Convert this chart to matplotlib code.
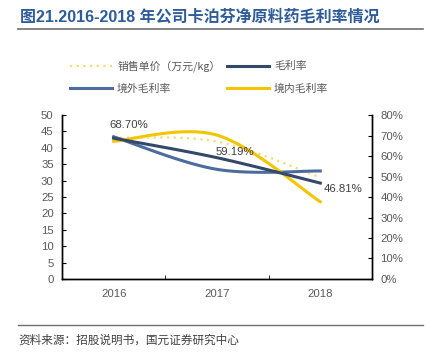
import numpy as np
import matplotlib.pyplot as plt
from matplotlib.lines import Line2D

plt.rcParams['font.family'] = ['Noto Sans CJK SC', 'DejaVu Sans']

years = ['2016', '2017', '2018']
price = [43.1, 41.9, 31.0]          # 销售单价（万元/kg），左轴
margin = [68.70, 59.19, 46.81]      # 毛利率 %
margin_abroad = [69.4, 53.5, 52.7]  # 境外毛利率 %
margin_home = [67.2, 70.2, 37.7]    # 境内毛利率 %
margin_labels = ['68.70%', '59.19%', '46.81%']


def smooth(xs, ys, n=40):
    # Excel 风格平滑线（Bezier）
    xs = np.asarray(xs, float)
    ys = np.asarray(ys, float)
    px = np.concatenate([[xs[0]], xs, [xs[-1]]])
    py = np.concatenate([[ys[0]], ys, [ys[-1]]])
    ox, oy = [], []
    t = np.linspace(0, 1, n)
    for i in range(1, len(xs)):
        p0x, p0y = px[i], py[i]
        p3x, p3y = px[i + 1], py[i + 1]
        c1x = p0x + (px[i + 1] - px[i - 1]) / 6
        c1y = p0y + (py[i + 1] - py[i - 1]) / 6
        c2x = p3x - (px[i + 2] - px[i]) / 6
        c2y = p3y - (py[i + 2] - py[i]) / 6
        bx = (1 - t) ** 3 * p0x + 3 * (1 - t) ** 2 * t * c1x + 3 * (1 - t) * t ** 2 * c2x + t ** 3 * p3x
        by = (1 - t) ** 3 * p0y + 3 * (1 - t) ** 2 * t * c1y + 3 * (1 - t) * t ** 2 * c2y + t ** 3 * p3y
        ox.extend(bx)
        oy.extend(by)
    return np.array(ox), np.array(oy)


navy = '#34496A'
blue = '#4C6CA0'
yellow = '#F2C500'
light_yellow = '#F7DB72'
gray = '#595959'
num_font = ['Liberation Sans', 'DejaVu Sans']

fig = plt.figure(figsize=(4.29, 3.54), dpi=100)
ax = fig.add_axes([0.1445, 0.2119, 0.7225, 0.4631])
ax2 = ax.twinx()

x = np.arange(len(years))

sx, sy = smooth(x, price)
ax.plot(sx, sy, color=light_yellow, lw=1.6, ls=(0, (1, 2)))

sx, sy = smooth(x, margin_abroad)
ax2.plot(sx, sy, color=blue, lw=2.2)
sx, sy = smooth(x, margin_home)
ax2.plot(sx, sy, color=yellow, lw=2.2)
sx, sy = smooth(x, margin)
ax2.plot(sx, sy, color=navy, lw=2.2)

offsets = [(11, 9.4), (12.6, 4), (16.5, -4.3)]
for i, lab in enumerate(margin_labels):
    ax2.annotate(lab, (x[i], margin[i]), xytext=offsets[i], textcoords='offset points',
                 ha='center', va='center', fontsize=8.2, color='#404040', family=num_font)

ax.set_xlim(-0.5, 2.5)
ax.set_ylim(0, 50)
ax.set_yticks(range(0, 51, 5))
ax2.set_ylim(0, 80)
ax2.set_yticks(range(0, 81, 10))
ax2.set_yticklabels([f'{v}%' for v in range(0, 81, 10)])
ax.set_xticks(x)
ax.set_xticklabels(years)
ax.set_xticks([-0.5, 0.5, 1.5, 2.5], minor=True)

for a in (ax, ax2):
    a.spines['top'].set_visible(False)
    for s in ('left', 'right', 'bottom'):
        a.spines[s].set_color('black')
        a.spines[s].set_linewidth(1.0)
    a.tick_params(axis='y', direction='in', length=3, labelsize=8.2, labelcolor=gray, pad=6)
    for lab in a.get_yticklabels() + a.get_xticklabels():
        lab.set_family(num_font)
ax.tick_params(axis='x', which='major', length=0, labelsize=8.2, labelcolor=gray, pad=7)
ax.tick_params(axis='x', which='minor', direction='in', length=3)

# 标题
fig.text(0.047, 0.952, '图21.2016-2018 年公司卡泊芬净原料药毛利率情况', fontsize=11.5,
         fontweight='bold', color='#2E5B9A', va='center', ha='left',
         family=['Liberation Sans', 'Noto Sans CJK SC'])
fig.add_artist(Line2D([0.042, 0.985], [0.918, 0.918], color='#6E6E6E', lw=1.2))

# 图例
items = [
    (0.163, 0.813, light_yellow, (0, (1, 2)), '销售单价（万元/kg）'),
    (0.529, 0.813, navy, '-', '毛利率'),
    (0.163, 0.751, blue, '-', '境外毛利率'),
    (0.529, 0.751, yellow, '-', '境内毛利率'),
]
for lx, ly, c, ls, txt in items:
    fig.add_artist(Line2D([lx, lx + 0.098], [ly, ly], color=c, lw=2.2 if ls == '-' else 1.6, ls=ls))
    fig.text(lx + 0.11, ly, txt, fontsize=7.8, color=gray, va='center', ha='left')

# 来源
fig.add_artist(Line2D([0.042, 0.985], [0.082, 0.082], color='#6E6E6E', lw=1.0))
fig.text(0.042, 0.04, '资料来源：招股说明书，国元证券研究中心', fontsize=8.4, color='#404040',
         va='center', ha='left')

fig.savefig('out.png', dpi=100)
